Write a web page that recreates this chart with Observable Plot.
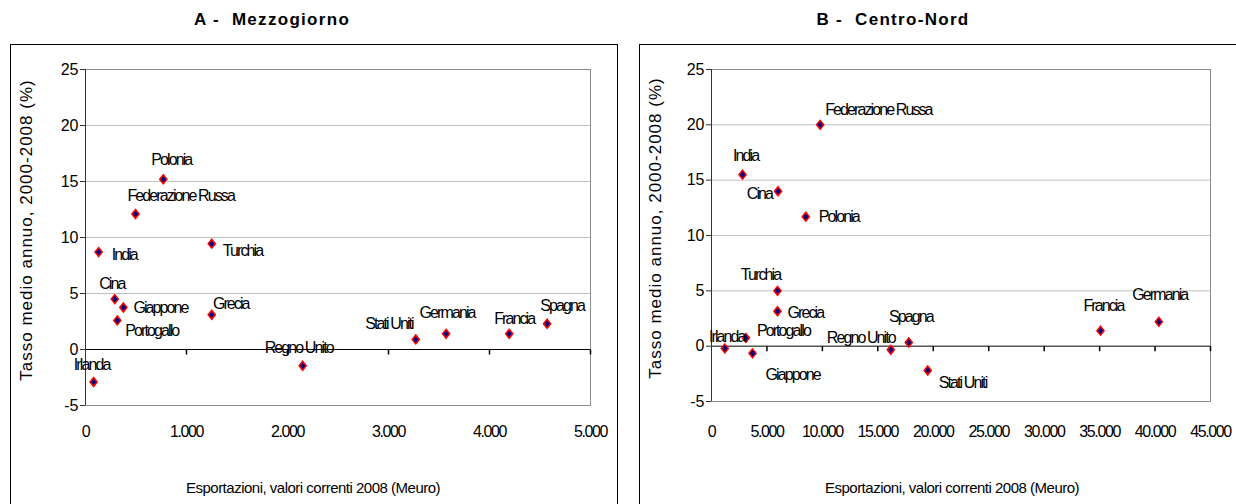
<!DOCTYPE html>
<html>
<head>
<meta charset="utf-8">
<script src="https://cdn.jsdelivr.net/npm/d3@7"></script>
<script src="https://cdn.jsdelivr.net/npm/@observablehq/plot@0.6"></script>
<style>
  body { margin: 0; background: #fff; width: 1236px; height: 504px; overflow: hidden; position: relative;
         font-family: "Liberation Sans", Arial, sans-serif; color: #000; }
  .box { position: absolute; top: 44px; height: 480px; border: 1px solid #000; overflow: hidden; }
  .box svg { position: absolute; left: 0; top: 0; }
  .title { position: absolute; top: 20px; transform: translate(-50%, -50%); font-size: 17px; font-weight: bold;
           white-space: nowrap; letter-spacing: 1.3px; }
  .xlab { position: absolute; top: 487px; transform: translate(-50%, -50%); font-size: 15px; white-space: nowrap;
          letter-spacing: -0.5px; }
  .ylab { position: absolute; transform: translate(-50%, -50%) rotate(-90deg); font-size: 17px; white-space: nowrap;
          letter-spacing: 1px; }
  .pp g[aria-label="x-axis tick label"] text { letter-spacing: -1.4px; }
  .pp g[aria-label="text"] text { letter-spacing: -1.9px; }
</style>
</head>
<body>
<div class="title" style="left:272px">A -&nbsp; Mezzogiorno</div>
<div class="title" style="left:893px">B -&nbsp; Centro-Nord</div>
<div class="box" id="boxA" style="left:10px; width:606px"></div>
<div class="box" id="boxB" style="left:639px; width:620px"></div>
<div class="ylab" style="left:27px; top:230px">Tasso medio annuo, 2000-2008 (%)</div>
<div class="ylab" style="left:656px; top:228px">Tasso medio annuo, 2000-2008 (%)</div>
<div class="xlab" style="left:313px">Esportazioni, valori correnti 2008 (Meuro)</div>
<div class="xlab" style="left:952px">Esportazioni, valori correnti 2008 (Meuro)</div>
<script>
// ---- Data: Panel A (Mezzogiorno) ----
const countriesA = ["Irlanda", "India", "Cina", "Giappone", "Portogallo", "Federazione Russa", "Polonia",
                    "Turchia", "Grecia", "Regno Unito", "Stati Uniti", "Germania", "Francia", "Spagna"];
const exportsA = [80, 130, 290, 375, 315, 495, 770, 1250, 1250, 2150, 3270, 3570, 4195, 4570];
const growthA  = [-2.9, 8.7, 4.5, 3.75, 2.6, 12.1, 15.2, 9.45, 3.1, -1.45, 0.9, 1.4, 1.4, 2.3];
// label placement (anchor, dx, dy in px)
const labelPosA = [["middle", -2, -17], ["start", 13, 3], ["middle", -3, -15], ["start", 10, 0],
                   ["start", 8, 10], ["start", -8, -18], ["middle", 8, -19], ["start", 11, 7],
                   ["middle", 19, -11], ["middle", -4, -18], ["end", -3, -16], ["middle", 1, -21],
                   ["middle", 5, -15], ["middle", 15, -18]];

// ---- Data: Panel B (Centro-Nord) ----
const countriesB = ["Federazione Russa", "India", "Cina", "Polonia", "Turchia", "Grecia", "Irlanda",
                    "Portogallo", "Giappone", "Regno Unito", "Spagna", "Stati Uniti", "Francia", "Germania"];
const exportsB = [9800, 2800, 6000, 8500, 5950, 5950, 1200, 3100, 3700, 16170, 17790, 19500, 35080, 40340];
const growthB  = [20.0, 15.5, 14.0, 11.7, 5.0, 3.15, -0.2, 0.75, -0.65, -0.33, 0.33, -2.2, 1.4, 2.2];
const labelPosB = [["start", 5, -15], ["middle", 3, -19], ["end", -6, 3], ["start", 13, 0],
                   ["middle", -17, -16], ["start", 10, 2], ["middle", 2, -12], ["start", 11, -7],
                   ["start", 13, 22], ["end", 4, -12], ["middle", 2, -26], ["start", 11, 12],
                   ["middle", 3, -25], ["middle", 1, -27]];

const yTicks = [-5, 0, 5, 10, 15, 20, 25];
const xTicksA = [0, 1000, 2000, 3000, 4000, 5000];
const xTicksB = [0, 5000, 10000, 15000, 20000, 25000, 30000, 35000, 40000, 45000];

const itFmt = d3.formatLocale({decimal: ",", thousands: ".", grouping: [3], currency: ["", "€"]}).format(",d");

const diamond = {
  draw(ctx, size) {
    const a = Math.sqrt(size / 2.5), b = a * 1.25;
    ctx.moveTo(0, -b); ctx.lineTo(a, 0); ctx.lineTo(0, b); ctx.lineTo(-a, 0); ctx.closePath();
  }
};
const tickDown = { draw(ctx) { ctx.moveTo(0, 0); ctx.lineTo(0, 5); } };

function panel({names, xs, ys, pos, xTicks, width, height, mL, mT, mB, mR, tickPad}) {
  const data = names.map((n, i) => ({name: n, x: xs[i], y: ys[i], anchor: pos[i][0], dx: pos[i][1], dy: pos[i][2]}));
  const labelMarks = data.map(d => Plot.text([d], {
    x: "x", y: "y", text: "name", textAnchor: d.anchor, dx: d.dx, dy: d.dy,
    fontSize: 16, fill: "#000"
  }));
  return Plot.plot({
    className: "pp",
    width, height,
    marginLeft: mL, marginTop: mT, marginBottom: mB, marginRight: mR,
    style: {fontFamily: '"Liberation Sans", Arial, sans-serif', fontSize: "16px", color: "#000", background: "transparent", overflow: "visible"},
    x: {domain: [xTicks[0], xTicks[xTicks.length - 1]], label: null},
    y: {domain: [-5, 25], label: null},
    marks: [
      Plot.gridY(yTicks.filter(t => t > 0), {stroke: "#c0c0c0", strokeOpacity: 1}),
      Plot.frame({stroke: "#8c8c8c"}),
      Plot.ruleY([0], {stroke: "#000"}),
      Plot.ruleX([xTicks[0]], {stroke: "#333"}),
      Plot.dot(xTicks.slice(1), {x: d => d, y: () => 0, symbol: tickDown, stroke: "#000", fill: "none", r: 3}),
      Plot.axisY(yTicks, {tickSize: 5, tickPadding: 2, fontSize: 16, stroke: "#333", tickFormat: d => String(d)}),
      Plot.axisX(xTicks, {tickSize: 0, tickPadding: tickPad, fontSize: 16, tickFormat: itFmt}),
      Plot.dot(data, {x: "x", y: "y", symbol: diamond, r: 3.2, fill: "#000080", stroke: "#ff0000", strokeWidth: 1.5}),
      ...labelMarks
    ]
  });
}

document.getElementById("boxA").appendChild(panel({
  names: countriesA, xs: exportsA, ys: growthA, pos: labelPosA, xTicks: xTicksA,
  width: 606, height: 460, mL: 74, mT: 24, mB: 100, mR: 27, tickPad: 20
}));
document.getElementById("boxB").appendChild(panel({
  names: countriesB, xs: exportsB, ys: growthB, pos: labelPosB, xTicks: xTicksB,
  width: 620, height: 460, mL: 71, mT: 24, mB: 104, mR: 50, tickPad: 24
}));
</script>
</body>
</html>
